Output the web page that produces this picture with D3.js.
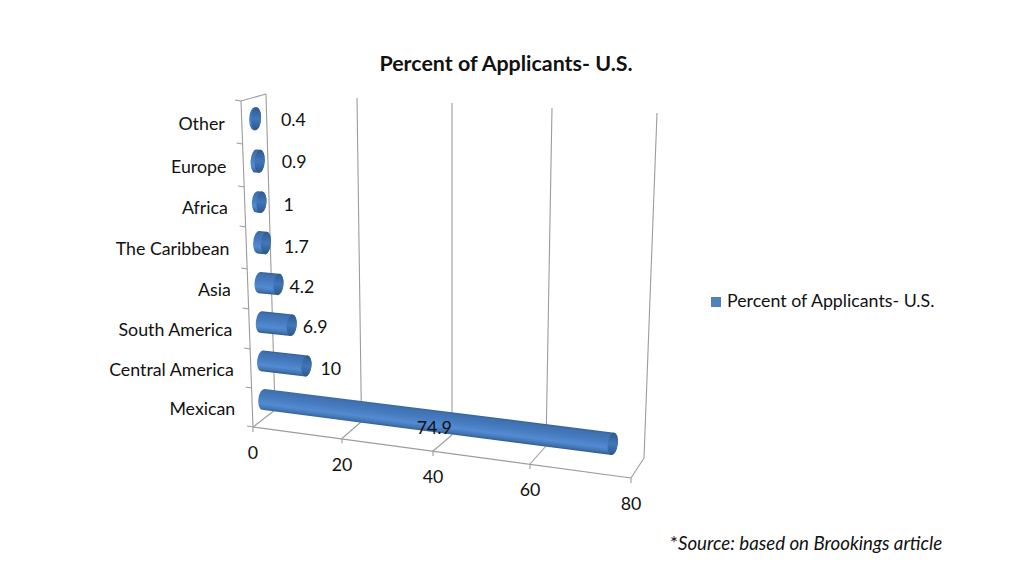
<!DOCTYPE html>
<html>
<head>
<meta charset="utf-8">
<script src="https://cdn.jsdelivr.net/npm/d3@7"></script>
<style>
  html, body { margin: 0; background: #fff; }
  text { font-family: Lato, "Open Sans", sans-serif; fill: #111; }
</style>
</head>
<body>
<svg id="chart" width="1024" height="576"></svg>
<script>
// bottom to top, same order as the chart's category axis
const categories = ['Mexican', 'Central America', 'South America', 'Asia', 'The Caribbean', 'Africa', 'Europe', 'Other']
const values = [74.9, 10, 6.9, 4.2, 1.7, 1, 0.9, 0.4]
const valueLabels = ['74.9', '10', '6.9', '4.2', '1.7', '1', '0.9', '0.4']
const xTicks = [0, 20, 40, 60, 80]
const seriesName = 'Percent of Applicants- U.S.'

// the 3D box as Excel drew it, one list per edge, read at the x ticks
const frontFloorX = [253, 342, 433, 530, 631]
const frontFloorY = [427, 438.5, 451, 464, 478]
const backFloorX = [275, 361.5, 452, 546, 644]
const backFloorY = [410, 421.5, 435, 446, 458]
const backTopX = [266, 357, 452, 552, 657]
const backTopY = [94, 98, 103, 108, 113]
const frontTopX = [241, 336, 433, 535, 642]
const frontTopY = [101, 106, 111, 117, 123]
// where the category ticks really fall on the left edge (perspective)
const categoryTickY = [427, 388, 349, 309, 269, 227, 187, 144, 101]

// label offset from the end of each bar, Excel's 3D labels are not regular
const labelOffsets = [[-201, -16], [9, 3], [6, 2], [6, 3], [13, 4], [17, 3], [17, 1], [20, 1]]

const edge = r => d3.scaleLinear().domain(xTicks).range(r)
const ffx = edge(frontFloorX), ffy = edge(frontFloorY)
const bfx = edge(backFloorX), bfy = edge(backFloorY)
const btx = edge(backTopX), bty = edge(backTopY)
const ftx = edge(frontTopX), fty = edge(frontTopY)

const band = d3.scaleBand().domain(categories).range([0, 1])
const warp = d3.scaleLinear()
  .domain(categoryTickY.map((d, i) => i / 8))
  .range(categoryTickY.map(y => (427 - y) / (427 - 101)))

// v = axis value, d = depth 0 front..1 back, h = height 0 floor..1 top
function project(v, d, h) {
  const t = warp(h)
  const fx = ffx(v) + (ftx(v) - ffx(v)) * t, fy = ffy(v) + (fty(v) - ffy(v)) * t
  const bx = bfx(v) + (btx(v) - bfx(v)) * t, by = bfy(v) + (bty(v) - bfy(v)) * t
  return [fx + (bx - fx) * d, fy + (by - fy) * d]
}

const svg = d3.select('#chart')
const grey = '#9c9c9c'
const defs = svg.append('defs')

const bodyGrad = defs.append('linearGradient').attr('id', 'barBody')
  .attr('x1', 0).attr('y1', 0).attr('x2', 0).attr('y2', 1)
bodyGrad.selectAll('stop')
  .data([[0, '#345f94'], [0.1, '#3f71b0'], [0.4, '#467bbf'], [0.7, '#538bd2'], [0.88, '#4275b2'], [1, '#2e5b8e']])
  .enter().append('stop')
  .attr('offset', d => d[0]).attr('stop-color', d => d[1])

const capGrad = defs.append('linearGradient').attr('id', 'barCap')
  .attr('x1', 0).attr('y1', 0).attr('x2', 0).attr('y2', 1)
capGrad.selectAll('stop')
  .data([[0, '#2d5a8e'], [0.5, '#4176b8'], [1, '#2c588a']])
  .enter().append('stop')
  .attr('offset', d => d[0]).attr('stop-color', d => d[1])

// walls and floor
const seg = (a, b) => svg.append('line')
  .attr('x1', a[0]).attr('y1', a[1]).attr('x2', b[0]).attr('y2', b[1])
  .attr('stroke', grey).attr('stroke-width', 1.1)

seg(project(0, 0, 0), project(0, 0, 1))
seg(project(0, 1, 0), project(0, 1, 1))
seg(project(0, 0, 1), project(0, 1, 1))
seg(project(0, 0, 0), project(80, 0, 0))

xTicks.forEach(v => {
  seg(project(v, 0, 0), project(v, 1, 0))
  const p = project(v, 0, 0)
  seg(p, [p[0], p[1] + 5])
  if (v > 0) seg(project(v, 1, 0), project(v, 1, 1))
})

categoryTickY.forEach((y, i) => {
  const p = project(0, 0, i / 8)
  seg(p, [p[0] - 6, p[1] - 1])
})

// bars
const thick = 0.034
const bars = svg.append('g').selectAll('g')
  .data(categories.map((c, i) => ({ c, v: values[i], i })).reverse())
  .enter().append('g')
  .attr('transform', d => {
    const h = band(d.c) + band.bandwidth() / 2
    const a = project(0, 0.5, h)
    const b = project(d.v, 0.5, h)
    d.len = Math.hypot(b[0] - a[0], b[1] - a[1])
    d.ryA = (project(0, 0.5, h - thick)[1] - project(0, 0.5, h + thick)[1]) / 2
    d.ryB = (project(d.v, 0.5, h - thick)[1] - project(d.v, 0.5, h + thick)[1]) / 2
    d.rx = 5
    const angle = Math.atan2(b[1] - a[1], b[0] - a[0]) * 180 / Math.PI
    return `translate(${a[0]},${a[1]}) rotate(${angle})`
  })

bars.append('path')
  .attr('fill', 'url(#barBody)')
  .attr('d', d => `M0,${-d.ryA} L${d.len},${-d.ryB} A${d.rx},${d.ryB} 0 0 1 ${d.len},${d.ryB} L0,${d.ryA} A${d.rx},${d.ryA} 0 0 1 0,${-d.ryA} Z`)

bars.append('ellipse')
  .attr('fill', 'url(#barCap)')
  .attr('cx', d => d.len).attr('cy', 0)
  .attr('rx', d => d.rx).attr('ry', d => d.ryB)

// category labels
svg.append('g').selectAll('text')
  .data(categories)
  .enter().append('text')
  .attr('text-anchor', 'end')
  .attr('font-size', 17.8)
  .attr('x', d => project(0, 0, band(d) + band.bandwidth() / 2)[0] - 17)
  .attr('y', d => project(0, 0, band(d) + band.bandwidth() / 2)[1] + 7)
  .text(d => d)

// value axis labels
svg.append('g').selectAll('text')
  .data(xTicks)
  .enter().append('text')
  .attr('text-anchor', 'middle')
  .attr('font-size', 17.8)
  .attr('x', d => project(d, 0, 0)[0])
  .attr('y', d => project(d, 0, 0)[1] + 32)
  .text(d => d)

// data labels
svg.append('g').selectAll('text')
  .data(categories)
  .enter().append('text')
  .attr('font-size', 17.8)
  .attr('x', (d, i) => project(values[i], 0.5, band(d) + band.bandwidth() / 2)[0] + 5 + labelOffsets[i][0])
  .attr('y', (d, i) => project(values[i], 0.5, band(d) + band.bandwidth() / 2)[1] + 6 + labelOffsets[i][1])
  .text((d, i) => valueLabels[i])

// title
svg.append('text')
  .attr('x', 506).attr('y', 71)
  .attr('text-anchor', 'middle')
  .attr('font-size', 21.4).attr('font-weight', 700)
  .text(seriesName)

// legend
svg.append('rect')
  .attr('x', 711).attr('y', 297).attr('width', 10).attr('height', 10)
  .attr('fill', '#4f81bd')
svg.append('text')
  .attr('x', 727).attr('y', 307)
  .attr('font-size', 17.8)
  .text(seriesName)

// source note
const note = svg.append('text')
  .attr('x', 670).attr('y', 550)
  .attr('font-size', 18.7)
note.append('tspan').text('*')
note.append('tspan').attr('font-style', 'italic').text('Source: based on Brookings article')
</script>
</body>
</html>
